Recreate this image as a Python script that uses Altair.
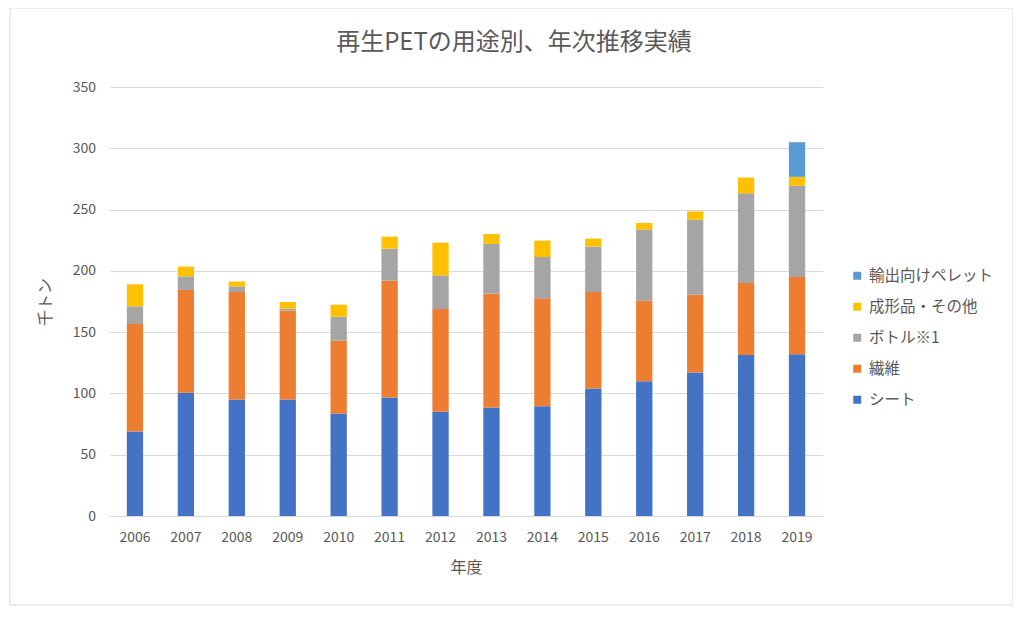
import altair as alt
import pandas as pd

years = [str(y) for y in range(2006, 2020)]
series_names = ["シート", "繊維", "ボトル※1", "成形品・その他", "輸出向けペレット"]
sheet = [69, 100.5, 95, 95, 83.6, 96.7, 85, 88.5, 89.6, 104, 110, 117, 131.3, 132]
fiber = [87.6, 84, 87.7, 72.7, 59.4, 95.3, 83.8, 92.9, 88, 78.7, 65.7, 63.5, 58.8, 63]
bottle = [14.4, 11, 4.6, 1.6, 19.6, 26.1, 27.5, 40.6, 33.7, 37.1, 58, 61.2, 73.2, 74.4]
other = [18, 8, 4, 5.2, 9.8, 9.8, 26.7, 8.1, 13.4, 6.5, 5.4, 6.8, 12.8, 7.3]
export = [0] * 13 + [28.3]
colors = ["#4472C4", "#ED7D31", "#A5A5A5", "#FFC000", "#5B9BD5"]

values = [sheet, fiber, bottle, other, export]
rows = []
for si, (name, vals) in enumerate(zip(series_names, values)):
    for y, v in zip(years, vals):
        rows.append({"年度": y, "用途": name, "値": v, "順": si})
df = pd.DataFrame(rows)

FONT = "Noto Sans CJK JP"
GRAY = "#595959"

bars = alt.Chart(df).mark_bar().encode(
    x=alt.X("年度:N", sort=years,
            scale=alt.Scale(paddingInner=0.68, paddingOuter=0.34),
            axis=alt.Axis(title="年度", labelAngle=0, domain=False, ticks=False,
                          labelPadding=14, titlePadding=15)),
    y=alt.Y("値:Q", stack="zero",
            scale=alt.Scale(domain=[0, 350], nice=False),
            axis=alt.Axis(title="千トン", values=list(range(0, 351, 50)),
                          domain=False, ticks=False, labelPadding=14,
                          titleX=-56, titleAngle=-90)),
    color=alt.Color("用途:N",
                    scale=alt.Scale(domain=series_names[::-1], range=colors[::-1]),
                    legend=alt.Legend(title=None, orient="none", legendX=740, legendY=181,
                                      symbolType="square", symbolSize=64,
                                      symbolStrokeWidth=0, rowPadding=14,
                                      labelFontSize=15.5, labelColor=GRAY,
                                      labelFont=FONT, labelOffset=4)),
    order=alt.Order("順:Q", sort="ascending"),
)

border = alt.Chart(pd.DataFrame({"a": [0]})).mark_rect(
    fill="transparent", stroke="#d9d9d9", strokeWidth=1, clip=False
).encode(
    x=alt.value(-99.5), x2=alt.value(903.5), y=alt.value(-79), y2=alt.value(518)
)

chart = alt.layer(border, bars).properties(
    width=713, height=429,
    autosize=alt.AutoSizeParams(type="none"),
    padding={"left": 101.5, "top": 79, "right": 190, "bottom": 90},
    title=alt.TitleParams("再生PETの用途別、年次推移実績", anchor="middle", dx=48,
                          offset=-47, fontSize=24, fontWeight="normal",
                          color=GRAY, font=FONT),
).configure_view(stroke=None).configure_axis(
    labelFont=FONT, titleFont=FONT, labelFontSize=14, titleFontSize=16,
    labelColor=GRAY, titleColor=GRAY, titleFontWeight="normal",
    gridColor="#d9d9d9", gridWidth=1,
)

chart.save("out.html", embed_options={"renderer": "svg", "actions": False})
